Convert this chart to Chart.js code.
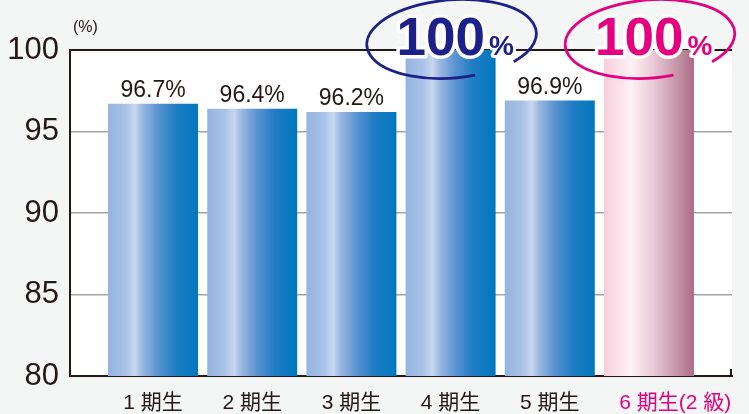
<!DOCTYPE html>
<html lang="ja">
<head>
  <meta charset="UTF-8">
  <title>期生別</title>
  <script src="https://cdn.jsdelivr.net/npm/chart.js@4.4.0/dist/chart.umd.min.js"></script>
  <style>
    body { margin: 0; background: #f4f6f5; }
    canvas { display: block; }
  </style>
</head>
<body>

  <canvas id="grafico" width="749" height="414"></canvas>

<script>
  // data
  var categories = ["1 期生", "2 期生", "3 期生", "4 期生", "5 期生", "6 期生"];
  var suffixes = ["", "", "", "", "", "(2 級)"];
  var values = [96.7, 96.4, 96.2, 100, 96.9, 100];
  var yTicks = [80, 85, 90, 95, 100];
  var unitLabel = "(%)";

  var ink = '#231815';
  var navy = '#1d2088';
  var pink = '#e4007f';
  var barPct = 0.907;
  var lastIdx = categories.length - 1;

  var blueStops = [[0, '#94b3df'], [0.2, '#aac3e7'], [0.3, '#c8d7ef'], [0.38, '#9ab8e2'],
                   [0.55, '#5b94d1'], [0.75, '#1f7dc4'], [1, '#0077be']];
  var pinkStops = [[0, '#f6cedb'], [0.3, '#fdf2f6'], [0.55, '#e9c9d5'],
                   [0.8, '#c697aa'], [1, '#ad6b86']];

  function barFill(c) {
    let chart = c.chart;
    let x = chart.scales.x;
    if (!x || c.dataIndex === undefined) return '#0077be';
    let mid = x.getPixelForValue(c.dataIndex);
    let half = (x.getPixelForValue(1) - x.getPixelForValue(0)) * barPct / 2;
    if (!isFinite(mid) || !isFinite(half)) return '#0077be';
    let g = chart.ctx.createLinearGradient(mid - half, 0, mid + half, 0);
    let stops = c.dataIndex === lastIdx ? pinkStops : blueStops;
    stops.forEach(s => g.addColorStop(s[0], s[1]));
    return g;
  }

  // circled "100%" over a bar
  function drawCircled(ctx, cx, top, color) {
    ctx.save();
    ctx.strokeStyle = color;
    ctx.lineWidth = 2.8;
    ctx.beginPath();
    ctx.ellipse(cx + 1, top - 11, 85, 39, -0.08, 76 * Math.PI / 180, 405 * Math.PI / 180);
    ctx.stroke();

    let left = cx - 54;
    let base = top + 5;
    ctx.lineJoin = 'round';
    ctx.font = 'bold 53px "Liberation Sans", Arial, sans-serif';
    ctx.textAlign = 'left';
    ctx.textBaseline = 'alphabetic';
    ctx.strokeStyle = '#ffffff';
    ctx.lineWidth = 7;
    ctx.strokeText('100', left, base);
    ctx.fillStyle = color;
    ctx.fillText('100', left, base);
    let w = ctx.measureText('100').width;

    ctx.font = 'bold 28px "Liberation Sans", Arial, sans-serif';
    ctx.lineWidth = 6;
    ctx.strokeText('%', left + w + 4, base);
    ctx.fillText('%', left + w + 4, base);
    ctx.restore();
  }

  let decor = {
    id: 'decor',
    beforeDraw(chart) {
      let ctx = chart.ctx;
      let a = chart.chartArea;
      ctx.save();
      ctx.fillStyle = '#f4f6f5';
      ctx.fillRect(0, 0, chart.width, chart.height);
      ctx.fillStyle = '#ffffff';
      ctx.fillRect(a.left, a.top, a.right - a.left, a.bottom - a.top);
      ctx.restore();
    },
    afterDatasetsDraw(chart) {
      let ctx = chart.ctx;
      let a = chart.chartArea;
      let x = chart.scales.x;
      let y = chart.scales.y;
      let bars = chart.getDatasetMeta(0).data;

      ctx.save();
      // small tick at the right end of the bottom axis
      ctx.strokeStyle = ink;
      ctx.lineWidth = 2;
      ctx.beginPath();
      ctx.moveTo(a.right - 1, a.bottom - 7);
      ctx.lineTo(a.right - 1, a.bottom + 1);
      ctx.stroke();

      // value labels
      ctx.font = '23px "Liberation Sans", Arial, sans-serif';
      ctx.fillStyle = ink;
      ctx.textAlign = 'center';
      ctx.textBaseline = 'alphabetic';
      values.forEach((v, i) => {
        if (v < 100) ctx.fillText(v.toFixed(1) + '%', bars[i].x, bars[i].y - 7);
      });

      // circled 100%
      values.forEach((v, i) => {
        if (v >= 100) drawCircled(ctx, x.getPixelForValue(i), y.getPixelForValue(100), i === lastIdx ? pink : navy);
      });

      // category labels
      ctx.font = '21px "Liberation Sans", "Noto Sans CJK JP", sans-serif';
      ctx.textAlign = 'left';
      categories.forEach((c, i) => {
        let w = ctx.measureText(c).width;
        ctx.fillStyle = i === lastIdx ? pink : ink;
        ctx.fillText(c + suffixes[i], x.getPixelForValue(i) - w / 2, a.bottom + 33);
      });

      // unit
      ctx.font = '16px "Liberation Sans", Arial, sans-serif';
      ctx.fillStyle = ink;
      ctx.fillText(unitLabel, a.left + 3, 32);
      ctx.restore();
    }
  };

  let grafico = new Chart(document.getElementById('grafico'), {
    type: 'bar',
    data: {
      datasets: [{
        data: values.map((v, i) => ({ x: i, y: v })),
        backgroundColor: barFill,
        borderWidth: 0,
        barPercentage: barPct,
        categoryPercentage: 1
      }]
    },
    options: {
      responsive: false,
      devicePixelRatio: 1,
      animation: false,
      layout: { padding: { top: 50, right: 17, bottom: 38, left: 0 } },
      plugins: { legend: { display: false }, tooltip: { enabled: false } },
      scales: {
        x: {
          type: 'linear',
          offset: false,
          min: -0.837,
          max: 5.837,
          afterBuildTicks: s => { s.ticks = categories.map((c, i) => ({ value: i })); },
          afterFit: s => { s.height = 0; },
          ticks: { display: false },
          grid: { display: false, drawTicks: false, offset: false },
          border: { display: true, color: ink, width: 2 }
        },
        y: {
          min: 80,
          max: 100,
          afterBuildTicks: s => { s.ticks = yTicks.map(v => ({ value: v })); },
          afterFit: s => { s.width = 70; },
          ticks: {
            padding: 11,
            color: ink,
            font: { family: '"Liberation Sans", Arial, sans-serif', size: 31 }
          },
          grid: {
            drawTicks: false,
            color: c => (c.tick && c.tick.value === 100) ? ink : '#a3a3a3',
            lineWidth: c => (c.tick && c.tick.value === 100) ? 2 : 1.5
          },
          border: { display: true, color: ink, width: 2 }
        }
      }
    },
    plugins: [decor]
  });
</script>
</body>
</html>
